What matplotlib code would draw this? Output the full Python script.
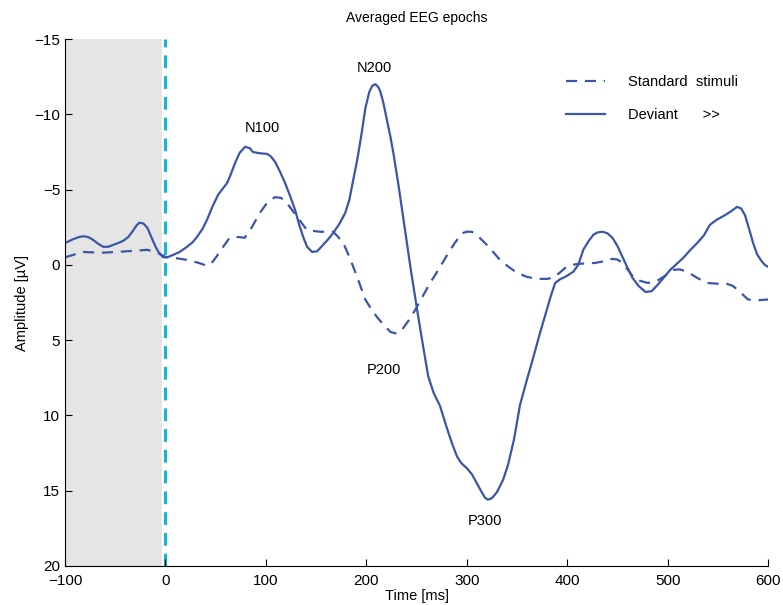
import numpy as np
import matplotlib.pyplot as plt

plt.rcParams['font.family'] = ['Liberation Sans', 'DejaVu Sans']

# deviant stimuli (solid)
t_dev = [-100, -92, -86, -82, -77, -72, -67, -62, -57, -52, -47, -42, -37, -33, -29, -26,
         -22, -18, -15, -12, -9, -7, -4, -2, 2, 7.6, 14, 21.5, 27, 31.5, 37, 41.4, 47,
         52.4, 57, 61.4, 65, 69.3, 74, 79.3, 84, 87, 91.2, 96, 101.2, 105, 109.2, 114,
         119.1, 124, 129.1, 133, 137.1, 141, 146, 151, 157, 162, 167, 173, 179, 183, 187,
         191, 195, 199, 203, 206, 209, 212, 214, 217, 220, 224, 227, 232, 237, 244, 250.6,
         256, 261.6, 267, 273.5, 280, 285, 290.4, 295, 300, 305, 310, 314, 318, 321, 325,
         330, 336, 341, 347, 353, 360, 366, 373, 380, 384, 388, 393, 398, 406, 411, 416,
         421, 426, 430, 435, 440, 445, 450, 455, 460, 465, 471, 478, 484, 490, 496, 502.6,
         509, 515.5, 522, 529.5, 536, 542, 549, 557, 563, 569, 573, 577, 581, 585, 589, 594,
         597, 600]
a_dev = [-1.45, -1.7, -1.85, -1.9, -1.85, -1.66, -1.4, -1.2, -1.2, -1.33, -1.45, -1.6,
         -1.85, -2.2, -2.6, -2.8, -2.75, -2.46, -2.0, -1.53, -1.1, -0.86, -0.62, -0.5,
         -0.5, -0.66, -0.85, -1.2, -1.5, -1.86, -2.4, -2.99, -3.9, -4.65, -5.05, -5.44,
         -6.0, -6.77, -7.45, -7.84, -7.75, -7.5, -7.44, -7.4, -7.37, -7.2, -6.84, -6.2,
         -5.44, -4.6, -3.65, -2.7, -1.86, -1.2, -0.86, -0.9, -1.33, -1.7, -2.12, -2.7,
         -3.45, -4.3, -5.64, -7.0, -8.6, -10.4, -11.5, -11.9, -12.0, -11.8, -11.5, -10.75,
         -9.8, -8.5, -7.4, -5.3, -3.0, 0.2, 3.0, 5.2, 7.4, 8.5, 9.4, 10.8, 11.8, 12.75,
         13.2, 13.5, 13.9, 14.5, 15.0, 15.45, 15.6, 15.5, 15.1, 14.3, 13.3, 11.6, 9.3, 7.6,
         6.2, 4.5, 2.9, 2.0, 1.2, 0.95, 0.8, 0.46, 0.0, -1.0, -1.55, -2.0, -2.15, -2.2,
         -2.1, -1.8, -1.25, -0.53, 0.2, 0.86, 1.4, 1.8, 1.75, 1.33, 0.85, 0.33, -0.06,
         -0.46, -0.95, -1.46, -1.95, -2.66, -3.0, -3.3, -3.55, -3.85, -3.75, -3.3, -2.4,
         -1.46, -0.7, -0.2, 0.02, 0.13]

# standard stimuli (dashed)
t_std = [-100, -90, -82, -65, -48, -32, -18, -8, 0, 10, 21.5, 32, 42, 47, 52, 58, 64, 72,
         79, 86, 94, 101, 109, 115, 121, 131, 141, 154, 167, 172, 177, 182, 187, 193, 199,
         205, 211, 218, 224, 229, 234, 241, 248.6, 256, 263.5, 272, 280.5, 288, 295.4, 300,
         305, 312, 320, 327, 333, 341, 350, 360, 370, 380, 386, 392, 398, 404, 411, 420,
         428, 437, 445, 450, 455, 460, 465, 472, 480, 486, 491, 498, 506, 512, 519.5, 529,
         539, 549, 559, 565, 572, 580, 590, 600]
a_std = [-0.5, -0.7, -0.86, -0.8, -0.86, -0.93, -1.0, -0.8, -0.53, -0.45, -0.33, -0.15,
         0.07, -0.2, -0.66, -1.25, -1.8, -1.85, -1.8, -2.5, -3.45, -4.1, -4.5, -4.45,
         -4.1, -3.2, -2.3, -2.2, -2.2, -1.85, -1.46, -0.7, 0.13, 1.2, 2.3, 2.95, 3.5, 4.05,
         4.45, 4.55, 4.45, 3.8, 3.0, 2.1, 1.2, 0.3, -0.66, -1.45, -2.1, -2.2, -2.2, -1.85,
         -1.33, -0.8, -0.33, 0.1, 0.53, 0.8, 0.93, 0.93, 0.86, 0.55, 0.2, 0.02, -0.07,
         -0.1, -0.13, -0.25, -0.4, -0.35, -0.13, 0.3, 0.73, 1.05, 1.2, 1.15, 1.0, 0.7,
         0.33, 0.3, 0.46, 0.85, 1.2, 1.25, 1.26, 1.4, 1.8, 2.3, 2.35, 2.3]

peak_names = ['N100', 'N200', 'P200', 'P300']
peak_t = [97, 208, 218, 318]
peak_a = [-9.1, -13.1, 7.0, 17.0]

blue = '#3b55a8'

fig = plt.figure(figsize=(7.83, 6.05), dpi=100)
ax = fig.add_axes([0.083, 0.0645, 0.898, 0.871])

ax.axvspan(-100, -3, color='#e5e5e5', lw=0, zorder=0)
ax.axvline(0, color='#1ab4cf', lw=2.3, dashes=(4, 2.5), zorder=1)

ax.plot(t_std, a_std, color=blue, lw=1.6, dashes=(5, 3.5), label='Standard  stimuli')
ax.plot(t_dev, a_dev, color=blue, lw=1.6, label='Deviant      >>')

for name, tx, ay in zip(peak_names, peak_t, peak_a):
    ax.text(tx, ay, name, ha='center', va='center', fontsize=10.5)

ax.set_xlim(-100, 600)
ax.set_ylim(20, -15)
ax.set_xticks(np.arange(-100, 601, 100))
ax.set_yticks(np.arange(-15, 21, 5))
ax.tick_params(direction='in', length=5, labelsize=11)
ax.tick_params(axis='x', pad=5.5)
ax.spines['top'].set_visible(False)
ax.spines['right'].set_visible(False)

ax.set_title('Averaged EEG epochs', fontsize=10, pad=12)
ax.set_xlabel('Time [ms]', fontsize=10.5, labelpad=1)
ax.set_ylabel('Amplitude [\u00b5V]', fontsize=10.5)

ax.legend(loc='upper left', frameon=False, fontsize=10.5, handlelength=2.7,
          handletextpad=1.6, borderpad=0, borderaxespad=0,
          bbox_to_anchor=(0.712, 0.932), labelspacing=1.3)

fig.savefig('out.png', dpi=100)
